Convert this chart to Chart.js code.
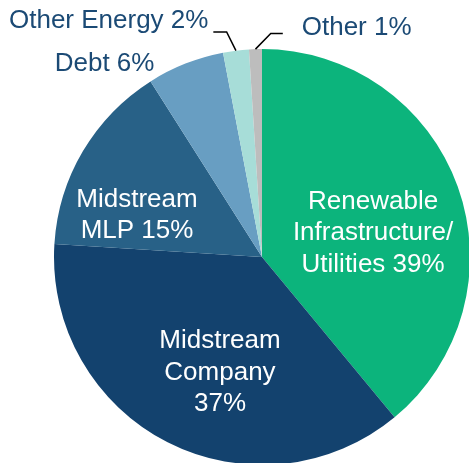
<!DOCTYPE html>
<html>
<head>
<meta charset="utf-8">
<script src="https://cdn.jsdelivr.net/npm/chart.js@4/dist/chart.umd.min.js"></script>
<style>
  html, body { margin: 0; padding: 0; background: #ffffff; overflow: hidden; width: 469px; height: 463px; }
  canvas { display: block; }
</style>
</head>
<body>
<canvas id="c" width="470" height="465"></canvas>
<script>
// ---- data ----
const categories = ["Renewable Infrastructure/ Utilities", "Midstream Company", "Midstream MLP", "Debt", "Other Energy", "Other"];
const shares = [39, 37, 15, 6, 2, 1];
const sliceColors = ["#0CB47C", "#13426E", "#286187", "#689EC2", "#A7DDD8", "#BDBDBD"];
const labelLines = [
  ["Renewable", "Infrastructure/", "Utilities 39%"],
  ["Midstream", "Company", "37%"],
  ["Midstream", "MLP 15%"],
  ["Debt 6%"],
  ["Other Energy 2%"],
  ["Other 1%"]
];

// ---- label layout (in units of pie radius, relative to pie centre) ----
const labelLayout = [
  { dx: 0.534, dy: -0.231, color: "#ffffff" },
  { dx: -0.202, dy: 0.438, color: "#ffffff" },
  { dx: -0.601, dy: -0.242, color: "#ffffff" },
  { dx: -0.757, dy: -0.894, color: "#1B4A75" },
  { dx: -0.737, dy: -1.102, color: "#1B4A75", leader: { ex: -0.170, ey: -1.082, hx: -0.234 } },
  { dx: 0.455, dy: -1.067, color: "#1B4A75", leader: { ex: 0.042, ey: -1.075, hx: 0.100 } }
];
const lineStep = 0.151;

const labelPlugin = {
  id: 'pieLabels',
  afterDatasetsDraw(chart) {
    const ctx = chart.ctx;
    const arcs = chart.getDatasetMeta(0).data;
    ctx.save();
    ctx.font = '26px "Liberation Sans", Arial, sans-serif';
    ctx.textAlign = 'center';
    ctx.textBaseline = 'alphabetic';
    arcs.forEach((arc, i) => {
      const R = arc.outerRadius, cx = arc.x, cy = arc.y;
      const L = labelLayout[i];
      if (L.leader) {
        const mid = (arc.startAngle + arc.endAngle) / 2;
        const px = cx + Math.cos(mid) * R, py = cy + Math.sin(mid) * R;
        ctx.beginPath();
        ctx.strokeStyle = '#000000';
        ctx.lineWidth = 1.5;
        ctx.moveTo(px, py);
        ctx.lineTo(cx + L.leader.ex * R, cy + L.leader.ey * R);
        ctx.lineTo(cx + L.leader.hx * R, cy + L.leader.ey * R);
        ctx.stroke();
      }
      ctx.fillStyle = L.color;
      labelLines[i].forEach((t, k) => {
        ctx.fillText(t, cx + L.dx * R, cy + (L.dy + k * lineStep) * R);
      });
    });
    ctx.restore();
  }
};

new Chart(document.getElementById('c'), {
  type: 'pie',
  data: {
    labels: categories,
    datasets: [{
      data: shares,
      backgroundColor: sliceColors,
      borderWidth: 0
    }]
  },
  options: {
    responsive: false,
    animation: false,
    devicePixelRatio: 1,
    layout: { padding: { left: 54, top: 49, right: 0, bottom: 0 } },
    plugins: { legend: { display: false }, tooltip: { enabled: false } }
  },
  plugins: [labelPlugin]
});
</script>
</body>
</html>
